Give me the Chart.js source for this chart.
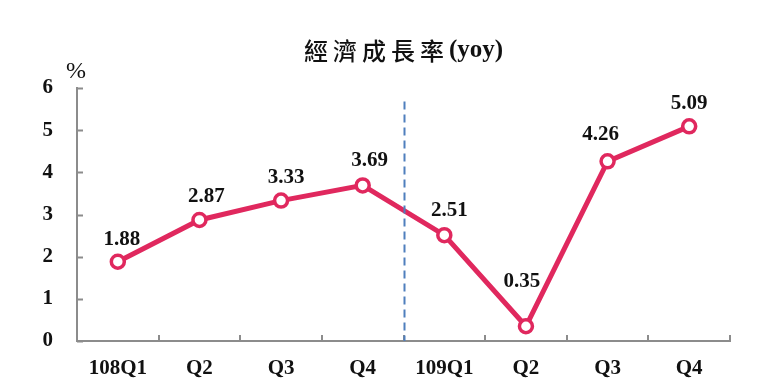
<!DOCTYPE html>
<html>
<head>
<meta charset="utf-8">
<script src="https://cdn.jsdelivr.net/npm/chart.js@4.4.0/dist/chart.umd.min.js"></script>
<style>
    html, body { margin: 0; padding: 0; background: #fff; }
    #wrap { width: 780px; height: 390px; }
</style>
</head>
<body>
<div id="wrap"><canvas id="gdpChart" width="780" height="390"></canvas></div>
<script>
// data
const quarters = ['108Q1', 'Q2', 'Q3', 'Q4', '109Q1', 'Q2', 'Q3', 'Q4'];
const growth = [1.88, 2.87, 3.33, 3.69, 2.51, 0.35, 4.26, 5.09];
const yTicks = [0, 1, 2, 3, 4, 5, 6];
const chartTitle = '經濟成長率';
const titleSuffix = '(yoy)';
const unitLabel = '%';

// label nudges (px) so numbers sit like in the original
const labelDx = [4, 7, 5, 7, 5, -4, -7, 0];
const labelDy = [-22, -23, -23, -25, -25, -45, -27, -23];

const lineColor = '#e0285e';
const axisColor = '#8c8c8c';
const dividerColor = '#4f7fbd';

const decorPlugin = {
    id: 'decor',
    afterDraw(chart) {
        const ctx = chart.ctx;
        const area = chart.chartArea;
        const xs = chart.scales.x;
        const ys = chart.scales.y;

        ctx.save();

        // title
        ctx.fillStyle = '#111';
        ctx.textBaseline = 'middle';
        ctx.font = '500 24px "Noto Sans CJK TC", sans-serif';
        ctx.letterSpacing = '5px';
        const w1 = ctx.measureText(chartTitle).width;
        ctx.letterSpacing = '0px';
        ctx.font = 'bold 25px "Liberation Serif", serif';
        const w2 = ctx.measureText(titleSuffix).width;
        let tx = (area.left + area.right) / 2 - (w1 + w2) / 2;
        ctx.textAlign = 'left';
        ctx.font = '500 24px "Noto Sans CJK TC", sans-serif';
        ctx.letterSpacing = '5px';
        ctx.fillText(chartTitle, tx, 51);
        ctx.letterSpacing = '0px';
        ctx.font = 'bold 25px "Liberation Serif", serif';
        ctx.fillText(titleSuffix, tx + w1, 51);

        // unit
        ctx.font = '24px "Liberation Serif", serif';
        ctx.textAlign = 'center';
        ctx.fillText(unitLabel, area.left - 1, 72);

        // inner ticks
        ctx.strokeStyle = axisColor;
        ctx.lineWidth = 2;
        ctx.beginPath();
        yTicks.forEach(v => {
            const py = Math.round(ys.getPixelForValue(v)) + 0.5;
            ctx.moveTo(area.left, py);
            ctx.lineTo(area.left + 6, py);
        });
        for (let i = 0; i <= quarters.length; i++) {
            const px = Math.round(xs.getPixelForValue(i - 0.5));
            ctx.moveTo(px, area.bottom);
            ctx.lineTo(px, area.bottom - 6);
        }
        ctx.stroke();

        // divider between the two years
        const dx = Math.round(xs.getPixelForValue(3.5)) + 0.5;
        ctx.strokeStyle = dividerColor;
        ctx.lineWidth = 2;
        ctx.setLineDash([8, 5]);
        ctx.beginPath();
        ctx.moveTo(dx, ys.getPixelForValue(5.68));
        ctx.lineTo(dx, area.bottom);
        ctx.stroke();
        ctx.setLineDash([]);

        // value labels
        const meta = chart.getDatasetMeta(0);
        ctx.font = 'bold 21px "Liberation Serif", serif';
        ctx.fillStyle = '#111';
        ctx.textAlign = 'center';
        ctx.textBaseline = 'middle';
        meta.data.forEach((pt, i) => {
            ctx.fillText(growth[i].toFixed(2), pt.x + labelDx[i], pt.y + labelDy[i]);
        });

        ctx.restore();
    }
};

const ctx = document.getElementById('gdpChart').getContext('2d');
new Chart(ctx, {
    type: 'line',
    data: {
        labels: quarters,
        datasets: [{
            data: growth,
            borderColor: lineColor,
            borderWidth: 5,
            pointRadius: 6.5,
            pointBorderWidth: 3.5,
            pointBackgroundColor: '#fff',
            pointBorderColor: lineColor,
            tension: 0,
            clip: false
        }]
    },
    options: {
        responsive: false,
        animation: false,
        layout: {
            padding: { left: 0, top: 88, right: 50, bottom: 0 }
        },
        plugins: {
            legend: { display: false },
            tooltip: { enabled: false },
            title: { display: false }
        },
        scales: {
            x: {
                offset: true,
                grid: { display: false, drawTicks: false },
                border: { display: true, color: axisColor, width: 2 },
                ticks: {
                    color: '#111',
                    padding: 15,
                    maxRotation: 0,
                    font: { family: '"Liberation Serif", serif', size: 21, weight: 'bold' }
                },
                afterFit: scale => { scale.height = 49; }
            },
            y: {
                min: 0,
                max: 6,
                grid: { display: false, drawTicks: false },
                border: { display: true, color: axisColor, width: 2 },
                ticks: {
                    stepSize: 1,
                    color: '#111',
                    padding: 24,
                    font: { family: '"Liberation Serif", serif', size: 21, weight: 'bold' }
                },
                afterFit: scale => { scale.width = 77; }
            }
        }
    },
    plugins: [decorPlugin]
});
</script>
</body>
</html>
